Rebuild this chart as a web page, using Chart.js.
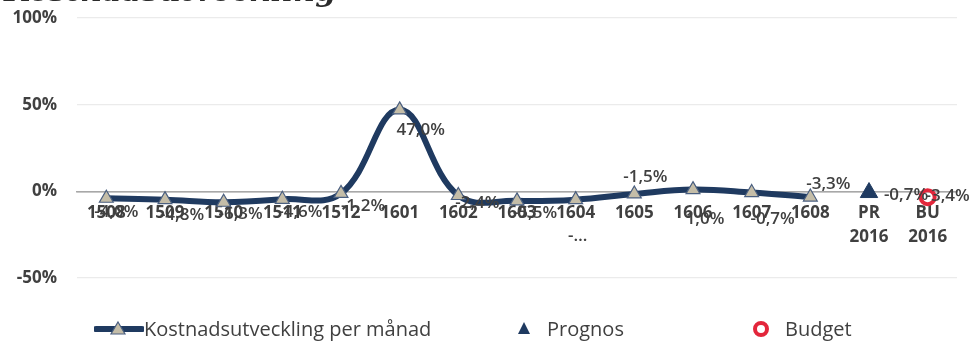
<!DOCTYPE html>
<html>
<head>
<meta charset="utf-8">
<script src="https://cdn.jsdelivr.net/npm/chart.js@4/dist/chart.umd.min.js"></script>
<style>
  html, body { margin: 0; padding: 0; background: #fff; }
  #wrap { position: relative; width: 974px; height: 342px; overflow: hidden; font-family: "Open Sans", sans-serif; }
  #chart { position: absolute; left: 0; top: 0; }
  #title { position: absolute; left: 4px; top: -27px; font-family: "DejaVu Serif", serif; font-weight: bold; font-style: italic; font-size: 30px; color: #2b2b2b; white-space: nowrap; }
  .leg { position: absolute; top: 314px; height: 28px; display: flex; align-items: center; font-size: 20px; color: #404040; white-space: nowrap; }
  .leg canvas { display: block; }
</style>
</head>
<body>
<div id="wrap">
  <canvas id="chart" width="974" height="342"></canvas>
  <div id="title">Kostnadsutveckling</div>
  <div class="leg" style="left:94px"><canvas id="ic1" width="50" height="20"></canvas><span>Kostnadsutveckling per månad</span></div>
  <div class="leg" style="left:513px"><canvas id="ic2" width="22" height="20"></canvas><span style="margin-left:12px">Prognos</span></div>
  <div class="leg" style="left:750px"><canvas id="ic3" width="22" height="20"></canvas><span style="margin-left:13px">Budget</span></div>
</div>
<script>
// ---- data ----
const categories = ['1508','1509','1510','1511','1512','1601','1602','1603','1604','1605','1606','1607','1608',['PR','2016'],['BU','2016']];
const monthlyValues = [-4.0, -4.8, -6.3, -4.6, -1.2, 47.0, -2.4, -5.5, -4.8, -1.5, 1.0, -0.7, -3.3, null, null];
const prognosValues = [null,null,null,null,null,null,null,null,null,null,null,null,null, -0.7, null];
const budgetValues  = [null,null,null,null,null,null,null,null,null,null,null,null,null, null, -3.4];
const yTicks = [-50, 0, 50, 100];
const truncatedMonthLabel = [false,false,false,false,false,false,false,false,true,false,false,false,false,false,false];

// ---- label placement (style) ----
const monthLabelOffsets = [[10,14],[17,16],[17,12],[18,13],[22,13],[21,20],[19,8],[18,12],[2,37],[11,-17],[12,30],[21,27],[18,-13],[0,0],[0,0]];
const prognosLabelOffset = [37, 3];
const budgetLabelOffset = [20, -1];

const NAVY = '#1f3a60';
const TAN = '#c4bda8';
const RED = '#e3263b';
const TXT = '#404040';

function fmt(v){ return v.toFixed(1).replace('.', ',') + '%'; }

const labelPlugin = {
  id: 'valueLabels',
  afterDatasetsDraw(chart){
    const ctx = chart.ctx;
    ctx.save();
    ctx.font = '600 17px "Open Sans", sans-serif';
    ctx.fillStyle = TXT;
    ctx.textAlign = 'center';
    ctx.textBaseline = 'middle';
    chart.data.datasets.forEach((ds, di) => {
      const meta = chart.getDatasetMeta(di);
      meta.data.forEach((pt, i) => {
        const v = ds.data[i];
        if (v === null || v === undefined) return;
        let off, txt = fmt(v);
        if (di === 0) { off = monthLabelOffsets[i]; if (truncatedMonthLabel[i]) txt = '-…'; }
        else if (di === 1) off = prognosLabelOffset;
        else off = budgetLabelOffset;
        ctx.fillText(txt, pt.x + off[0], pt.y + off[1]);
      });
    });
    ctx.restore();
  }
};

new Chart(document.getElementById('chart'), {
  type: 'line',
  data: {
    labels: categories,
    datasets: [
      {
        label: 'Kostnadsutveckling per månad',
        data: monthlyValues,
        borderColor: NAVY,
        borderWidth: 6,
        tension: 0.4,
        pointStyle: 'triangle',
        pointRadius: 8,
        pointBackgroundColor: TAN,
        pointBorderColor: '#4a5f80',
        pointBorderWidth: 1.2,
        spanGaps: false,
        order: 1
      },
      {
        label: 'Prognos',
        data: prognosValues,
        showLine: false,
        pointStyle: 'triangle',
        pointRadius: 10,
        pointBackgroundColor: NAVY,
        pointBorderColor: NAVY,
        pointBorderWidth: 1,
        order: 0
      },
      {
        label: 'Budget',
        data: budgetValues,
        showLine: false,
        pointStyle: 'circle',
        pointRadius: 7,
        pointBackgroundColor: 'rgba(0,0,0,0)',
        pointBorderColor: RED,
        pointBorderWidth: 4,
        order: 0
      }
    ]
  },
  options: {
    responsive: false,
    animation: false,
    layout: { padding: { left: 0, right: 17, top: 18, bottom: 64 } },
    plugins: { legend: { display: false }, tooltip: { enabled: false } },
    scales: {
      x: {
        position: { y: 0 },
        offset: true,
        grid: { display: false },
        border: { display: true, color: '#a8a8a8', width: 1.5 },
        ticks: {
          color: TXT,
          padding: 2,
          maxRotation: 0,
          autoSkip: false,
          font: { family: '"Open Sans", sans-serif', size: 17, weight: 'bold', lineHeight: 1.4 }
        }
      },
      y: {
        min: -50, max: 100,
        afterBuildTicks(scale){ scale.ticks = yTicks.map(v => ({ value: v })); },
        afterFit(scale){ scale.width = 77; scale.paddingTop = 10; scale.paddingBottom = 10; },
        grid: {
          drawTicks: false,
          color: ctx => ctx.tick && ctx.tick.value === 0 ? '#a8a8a8' : '#ebebeb',
          lineWidth: 1.2
        },
        border: { display: false },
        ticks: {
          color: TXT,
          padding: 20,
          font: { family: '"Open Sans", sans-serif', size: 17, weight: 'bold' },
          callback: v => v + '%'
        }
      }
    }
  },
  plugins: [labelPlugin]
});

// legend icons
(function(){
  let c = document.getElementById('ic1').getContext('2d');
  c.strokeStyle = NAVY; c.lineWidth = 6; c.lineCap = 'round';
  c.beginPath(); c.moveTo(2, 11); c.lineTo(48, 11); c.stroke();
  c.fillStyle = TAN; c.strokeStyle = '#4a5f80'; c.lineWidth = 1.2;
  c.beginPath(); c.moveTo(24, 4); c.lineTo(31, 16); c.lineTo(17, 16); c.closePath(); c.fill(); c.stroke();
  c = document.getElementById('ic2').getContext('2d');
  c.fillStyle = NAVY;
  c.beginPath(); c.moveTo(11, 4); c.lineTo(17, 16); c.lineTo(5, 16); c.closePath(); c.fill();
  c = document.getElementById('ic3').getContext('2d');
  c.strokeStyle = RED; c.lineWidth = 4;
  c.beginPath(); c.arc(11, 11, 6, 0, Math.PI * 2); c.stroke();
})();
</script>
</body>
</html>
